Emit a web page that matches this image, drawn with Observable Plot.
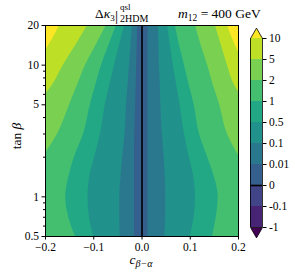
<!DOCTYPE html>
<html>
<head>
<meta charset="utf-8">
<script src="https://cdn.jsdelivr.net/npm/d3@7"></script>
<script src="https://cdn.jsdelivr.net/npm/@observablehq/plot@0.6"></script>
<style>
  html, body { margin: 0; padding: 0; background: white; }
  #wrap { position: relative; width: 295px; height: 277px; font-family: serif; }
  #wrap > svg { position: absolute; left: 0; top: 0; }
  #wrap svg, #wrap text { font-family: serif !important; }
</style>
</head>
<body>
<div id="wrap"></div>
<script>
// ---- data: where each contour level crosses, per tan(beta) row ----
const tanBeta = [20, 14, 10, 7, 5, 3, 2, 1.5, 1, 0.7, 0.5];
// c_{beta-alpha} of the contour on the left (L) and right (R) of c = 0
// (values beyond +-0.2 are estimated continuations outside the frame)
const lvl10L  = [-0.171, -0.194, -0.225, -0.26, -0.3, -0.3, -0.3, -0.3, -0.3, -0.3, -0.3];
const lvl10R  = [0.177, 0.194, 0.214, 0.24, 0.3, 0.3, 0.3, 0.3, 0.3, 0.3, 0.3];
const lvl5L   = [-0.113, -0.138, -0.163, -0.186, -0.218, -0.25, -0.28, -0.3, -0.3, -0.3, -0.3];
const lvl5R   = [0.152, 0.165, 0.177, 0.192, 0.219, 0.25, 0.28, 0.3, 0.3, 0.3, 0.3];
const lvl2L   = [-0.074, -0.096, -0.117, -0.134, -0.150, -0.175, -0.205, -0.225, -0.24, -0.235, -0.22];
const lvl2R   = [0.111, 0.123, 0.136, 0.148, 0.161, 0.177, 0.2025, 0.225, 0.24, 0.235, 0.22];
const lvl1L   = [-0.053, -0.069, -0.084, -0.096, -0.107, -0.121, -0.140, -0.150, -0.158, -0.152, -0.138];
const lvl1R   = [0.069, 0.078, 0.088, 0.098, 0.108, 0.119, 0.136, 0.148, 0.158, 0.154, 0.146];
const lvl05L  = [-0.036, -0.047, -0.057, -0.067, -0.076, -0.086, -0.098, -0.107, -0.112, -0.109, -0.100];
const lvl05R  = [0.053, 0.059, 0.065, 0.072, 0.079, 0.088, 0.098, 0.106, 0.111, 0.108, 0.100];
const lvl01L  = [-0.020, -0.023, -0.026, -0.029, -0.032, -0.035, -0.040, -0.043, -0.046, -0.046, -0.045];
const lvl01R  = [0.034, 0.035, 0.036, 0.038, 0.039, 0.042, 0.046, 0.048, 0.049, 0.049, 0.047];
const lvl001L = [-0.009, -0.010, -0.011, -0.012, -0.013, -0.015, -0.0155, -0.0155, -0.0155, -0.0155, -0.0155];
const lvl001R = [0.013, 0.012, 0.012, 0.012, 0.012, 0.012, 0.012, 0.012, 0.012, 0.012, 0.012];
const zeroLineC = [0];   // Delta kappa_3 = 0 along c = 0

const levels = [-1, -0.1, 0, 0.01, 0.1, 0.5, 1, 2, 5, 10];
const levelLabels = ["-1", "-0.1", "0", "0.01", "0.1", "0.5", "1", "2", "5", "10"];
const xTicks = [-0.2, -0.1, 0, 0.1, 0.2];
const yMajor = [0.5, 1, 5, 10, 20];
const yMinor = [0.6, 0.7, 0.8, 0.9, 2, 3, 4, 6, 7, 8, 9];

// ---- derived tables ----
const contourSets = [
  {level: 10, L: lvl10L, R: lvl10R},
  {level: 5, L: lvl5L, R: lvl5R},
  {level: 2, L: lvl2L, R: lvl2R},
  {level: 1, L: lvl1L, R: lvl1R},
  {level: 0.5, L: lvl05L, R: lvl05R},
  {level: 0.1, L: lvl01L, R: lvl01R},
  {level: 0.01, L: lvl001L, R: lvl001R}
];
const pThresholds = levels.map((_, i) => i + 1);
const nColors = levels.length + 1;
const colors = d3.range(nColors).map(k => d3.interpolateViridis(k / (nColors - 1)));
const colorScale = {type: "ordinal", domain: pThresholds, range: pThresholds.map(k => colors[k])};
const bands = pThresholds.slice(0, -1).map(k => ({lo: k, hi: k + 1, k}));

const font = {fontFamily: "serif", fontSize: "11.5px", color: "black"};

// region below each level: band between its left and right contour
const regionMarks = contourSets.map(({level, L, R}) => {
  const k = levels.indexOf(level);
  const rows = tanBeta.map((t, i) => ({t, l: L[i], r: R[i], k}));
  return Plot.areaX(rows, {y: "t", x1: "l", x2: "r", fill: "k", curve: "monotone-y", clip: true});
});

const main = Plot.plot({
  width: 295, height: 277,
  marginLeft: 45, marginRight: 57, marginTop: 25, marginBottom: 41,
  style: {...font, background: "white"},
  x: {domain: [-0.2, 0.2]},
  y: {type: "log", domain: [0.5, 20]},
  color: colorScale,
  marks: [
    Plot.frame({fill: colors[nColors - 1], stroke: null}),
    ...regionMarks,
    Plot.ruleX(zeroLineC, {stroke: "black", strokeWidth: 1.6}),
    Plot.frame({stroke: "black", strokeWidth: 1}),
    Plot.axisX({ticks: xTicks, tickSize: 3.5, tickPadding: 3, label: null,
      tickFormat: d => (d < 0 ? "\u2212" : "") + Math.abs(d).toFixed(1)}),
    Plot.axisY({ticks: yMajor, tickSize: 3.5, tickPadding: 3, label: null, tickFormat: d => String(d)}),
    Plot.axisY({ticks: yMinor, tickSize: 2, label: null, tickFormat: () => ""})
  ]
});

const bar = Plot.plot({
  width: 295, height: 277,
  marginLeft: 250, marginRight: 33, marginTop: 38, marginBottom: 50,
  style: {...font, background: "none"},
  x: {domain: [0, 1], axis: null},
  y: {domain: [1, levels.length]},
  color: colorScale,
  marks: [
    Plot.dot([levels.length], {x: 0.5, y: d => d, symbol: "triangle", r: 4.45, dy: -3.46,
      fill: colors[nColors - 1], stroke: "black", strokeWidth: 0.8}),
    Plot.dot([1], {x: 0.5, y: d => d, symbol: "triangle", r: 4.45, rotate: 180, dy: 3.46,
      fill: colors[0], stroke: "black", strokeWidth: 0.8}),
    Plot.rect(bands, {x1: 0, x2: 1, y1: "lo", y2: "hi", fill: "k"}),
    Plot.ruleX([0, 1], {y1: 1, y2: levels.length, stroke: "black", strokeWidth: 0.8}),
    Plot.ruleY([levels.indexOf(0) + 1], {x1: 0, x2: 1, stroke: "black", strokeWidth: 1.6}),
    Plot.axisY({anchor: "right", ticks: pThresholds, tickSize: 3.5, tickPadding: 3, label: null,
      tickFormat: p => levelLabels[p - 1]})
  ]
});

const wrap = document.getElementById("wrap");
wrap.appendChild(main);
wrap.appendChild(bar);

// titles and axis labels as text
const ns = "http://www.w3.org/2000/svg";
const over = document.createElementNS(ns, "svg");
over.setAttribute("width", 295); over.setAttribute("height", 277);
over.style.fontFamily = "serif";
over.style.pointerEvents = "none";
over.innerHTML = `
  <text x="95" y="18" font-size="13.5" style="white-space:pre">Δ<tspan font-style="italic">κ</tspan><tspan font-size="9" dy="2.5">3</tspan></text>
  <text x="115" y="20.5" font-size="15.5">|</text>
  <text x="120" y="10" font-size="9">qsl</text>
  <text x="120" y="21.5" font-size="10">2HDM</text>
  <text x="178" y="18" font-size="13.5" style="white-space:pre"><tspan font-style="italic">m</tspan><tspan font-size="9.5" dy="2.5">12</tspan><tspan dy="-2.5"> = 400 GeV</tspan></text>
  <text x="141" y="264" font-size="13.5" text-anchor="middle"><tspan font-style="italic">c</tspan><tspan font-size="10" dy="3" font-style="italic">β−α</tspan></text>
  <text transform="translate(21,136) rotate(-90)" font-size="13.5" text-anchor="middle" style="white-space:pre">tan <tspan font-style="italic">β</tspan></text>
`;
wrap.appendChild(over);
</script>
</body>
</html>
